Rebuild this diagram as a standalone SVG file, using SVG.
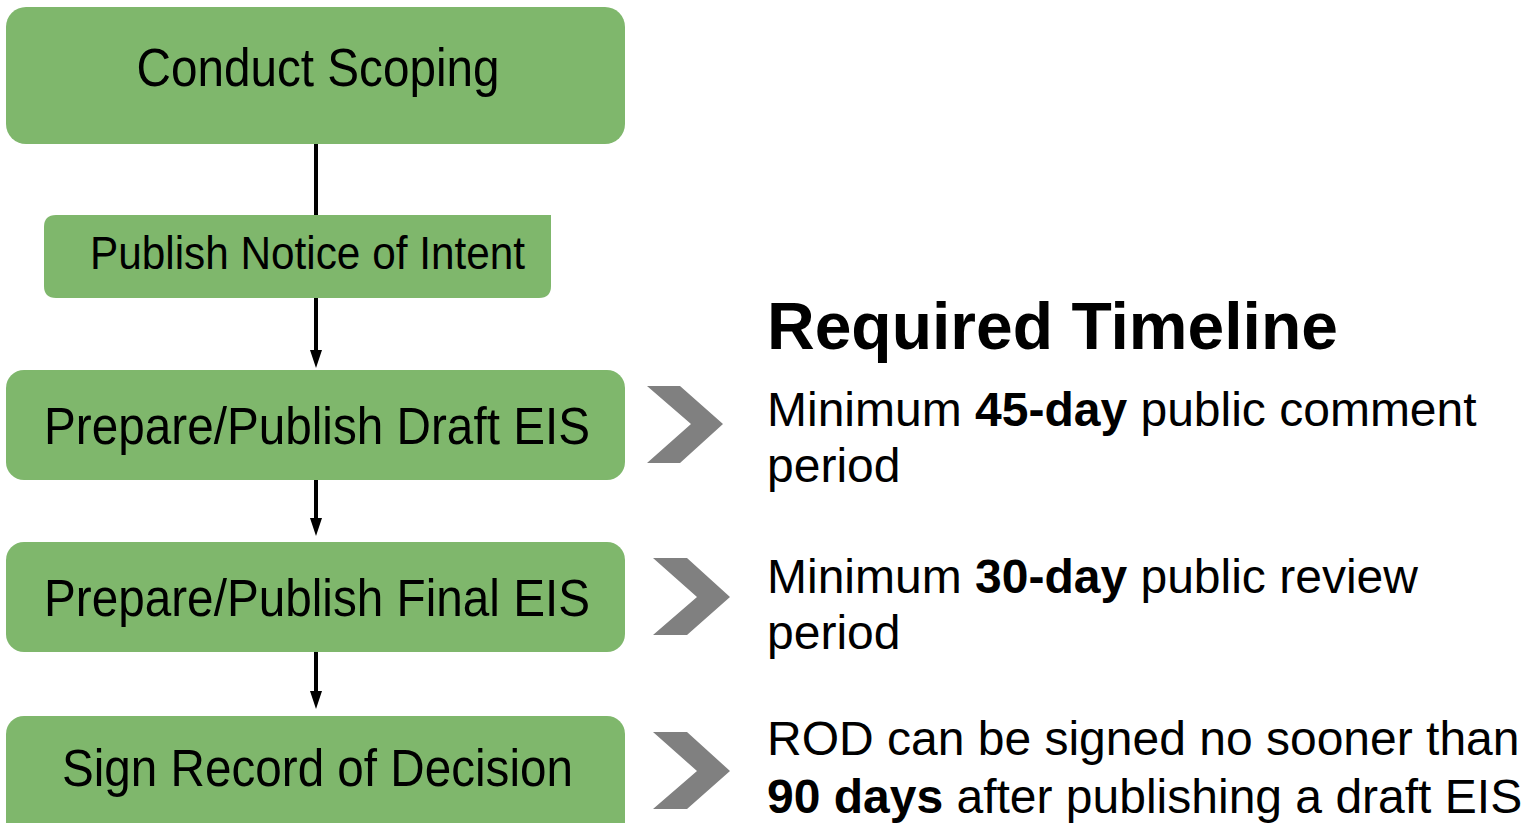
<svg xmlns="http://www.w3.org/2000/svg" width="1533" height="823" viewBox="0 0 1533 823">
<style>
.box{fill:#7FB76C}
.nt{font-family:"Liberation Sans",Arial,sans-serif;fill:#000;text-anchor:middle}
.rt{font-family:"Liberation Sans",Arial,sans-serif;fill:#000;font-size:48px}
.b{font-weight:bold}
.chev{fill:#808080}
.conn{stroke:#000;stroke-width:4;fill:none}
</style>
<defs>
<marker id="ah" markerWidth="12" markerHeight="18" refX="6" refY="17" orient="auto" markerUnits="userSpaceOnUse" viewBox="0 0 12 18">
<path d="M0,0 L12,0 L6,18 Z" fill="#000"/>
</marker>
</defs>
<rect width="1533" height="823" fill="#fff"/>
<g id="connectors">
<line class="conn" x1="316" y1="144" x2="316" y2="216"/>
<line class="conn" x1="316" y1="298" x2="316" y2="350"/>
<path d="M310,350 L322,350 L316,368 Z" fill="#000"/>
<line class="conn" x1="316" y1="480" x2="316" y2="518"/>
<path d="M310,518 L322,518 L316,536 Z" fill="#000"/>
<line class="conn" x1="316" y1="652" x2="316" y2="691"/>
<path d="M310,691 L322,691 L316,709 Z" fill="#000"/>
</g>
<g id="node-scoping">
<rect class="box" x="6" y="7" width="619" height="137" rx="20"/>
<text class="nt" x="318" y="86" font-size="53" textLength="363" lengthAdjust="spacingAndGlyphs">Conduct Scoping</text>
</g>
<g id="node-noi">
<path class="box" d="M56,215 L551,215 L551,286 Q551,298 539,298 L56,298 Q44,298 44,286 L44,227 Q44,215 56,215 Z"/>
<text class="nt" x="307.5" y="269" font-size="46" textLength="435" lengthAdjust="spacingAndGlyphs">Publish Notice of Intent</text>
</g>
<g id="node-draft">
<rect class="box" x="6" y="370" width="619" height="110" rx="18"/>
<text class="nt" x="317" y="444" font-size="51" textLength="546" lengthAdjust="spacingAndGlyphs">Prepare/Publish Draft EIS</text>
</g>
<g id="node-final">
<rect class="box" x="6" y="542" width="619" height="110" rx="18"/>
<text class="nt" x="317" y="616" font-size="51" textLength="546" lengthAdjust="spacingAndGlyphs">Prepare/Publish Final EIS</text>
</g>
<g id="node-rod">
<rect class="box" x="6" y="716" width="619" height="130" rx="18"/>
<text class="nt" x="317.5" y="786" font-size="51" textLength="511" lengthAdjust="spacingAndGlyphs">Sign Record of Decision</text>
</g>
<g id="chevrons">
<polygon class="chev" points="647,386 680,386 723,424 680,463 647,463 691,424"/>
<polygon class="chev" points="653,558 687,558 730,597 687,635 653,635 697,597"/>
<polygon class="chev" points="653,732 687,732 730,771 687,809 653,809 697,771"/>
</g>
<g id="timeline">
<text x="767" y="349" font-family="Liberation Sans, Arial, sans-serif" font-weight="bold" font-size="66">Required Timeline</text>
<text class="rt" x="767" y="426">Minimum <tspan class="b">45-day</tspan> public comment</text>
<text class="rt" x="767" y="482">period</text>
<text class="rt" x="767" y="593">Minimum <tspan class="b">30-day</tspan> public review</text>
<text class="rt" x="767" y="649">period</text>
<text class="rt" x="767" y="755">ROD can be signed no sooner than</text>
<text class="rt" x="767" y="813"><tspan class="b">90 days</tspan> after publishing a draft EIS</text>
</g>
</svg>
